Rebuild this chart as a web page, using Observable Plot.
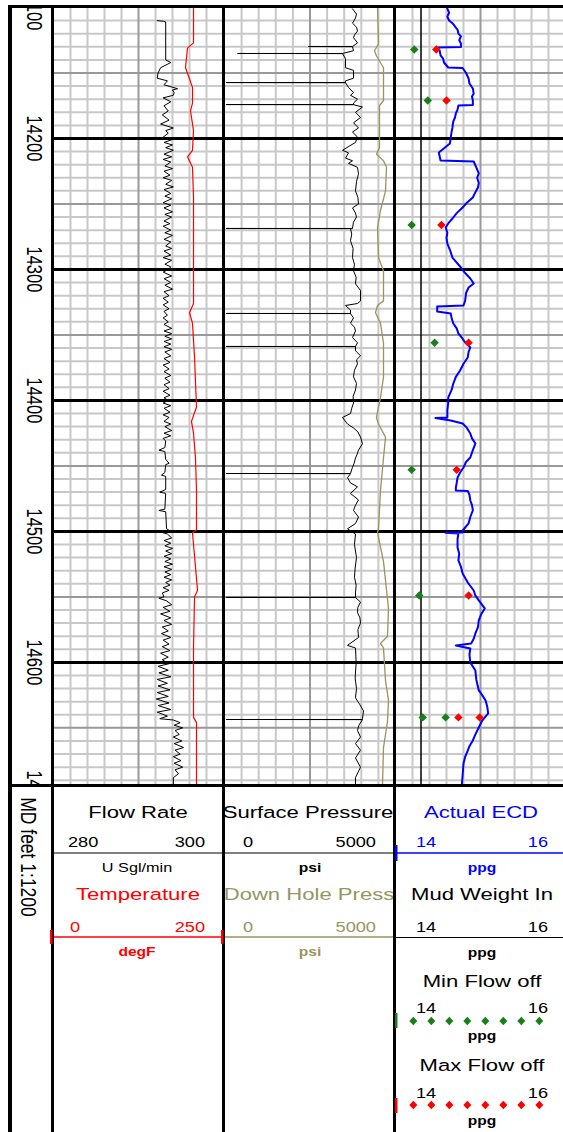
<!DOCTYPE html>
<html><head><meta charset="utf-8">
<script src="https://cdn.jsdelivr.net/npm/d3@7"></script>
<script src="https://cdn.jsdelivr.net/npm/@observablehq/plot@0.6"></script>
<style>
html,body{margin:0;padding:0;background:#fff;}
#root{position:relative;width:563px;height:1132px;overflow:hidden;background:#fff;font-family:"Liberation Sans",Arial,sans-serif;}
</style></head><body><div id="root"></div>
<script>
// ---------------- DATA ----------------
const depthDomain = [14100, 14694];
const depthLabels = [14100, 14200, 14300, 14400, 14500, 14600, 14700];
const gridMinorDepths = d3.range(14110, 14694, 10).filter(d => d % 50 !== 0);
const gridMidDepths = d3.range(14150, 14694, 100);
const gridMajorDepths = d3.range(14200, 14694, 100);

const flowRateRange = [280, 300];
const temperatureRange = [0, 250];
const pressureRange = [0, 5000];
const ppgRange = [14, 16];

// [depth ft, USgl/min]
const flowRate = [[14110,292.2],[14110.5,292.9],[14111,293.2],[14140,293.2],[14142,293.8],[14146,292.6],[14150,292.3],[14154,292.2],[14156,293.4],[14159,293.0],[14162,294.6],[14163,294.0],[14165,294.2],[14167,294.1],[14169,292.9],[14172,293.8],[14175,293.0],[14179,293.5],[14182,292.8],[14186,293.6],[14189,292.6],[14192,294.1],[14194,293.2],[14196,293.5],[14199,292.9],
[14201,293.9],[14203,293.0],[14205,294.0],[14207,293.2],[14209,294.1],[14212,293.0],[14214,293.9],[14216,292.9],[14218,293.8],[14221,293.1],[14223,294.0],[14225,293.0],[14228,293.7],[14230,292.9],[14232,293.9],[14235,293.2],[14237,294.1],[14239,293.0],[14242,293.8],[14244,293.1],[14246,293.9],[14249,292.9],[14251,293.8],[14253,293.0],[14256,294.0],[14258,293.1],[14260,293.9],[14263,293.0],[14265,293.7],[14267,292.9],[14270,293.8],[14272,293.1],[14274,294.0],[14277,293.0],[14279,293.8],[14282,293.2],[14284,293.9],[14286,293.0],[14289,293.8],[14291,292.9],[14293,293.9],[14296,293.1],[14298,293.8],
[14300,293.5],[14302,292.9],[14305,293.9],[14307,293.0],[14310,293.8],[14312,293.1],[14315,294.0],[14317,293.0],[14320,293.6],[14322,292.9],[14325,293.5],[14327,292.9],[14330,293.6],[14332,293.0],[14335,293.4],[14337,292.9],[14340,293.5],[14342,293.0],[14345,293.9],[14347,293.0],[14349,293.9],[14351,293.1],[14353,293.9],[14355,293.0],[14357,293.8],[14359,293.0],[14361,293.9],[14363,293.1],[14366,293.8],[14368,293.0],[14371,293.7],[14373,292.9],[14376,293.6],[14378,293.0],[14381,293.8],[14383,293.1],[14386,293.7],[14388,293.0],[14391,293.6],[14393,292.9],[14396,293.7],[14398,293.0],
[14400,293.5],[14402,292.9],[14404,293.8],[14406,293.0],[14409,293.7],[14411,292.9],[14413,293.6],[14416,293.0],[14418,293.8],[14420,293.1],[14423,293.9],[14425,293.0],[14427,293.8],[14429,292.9],[14431,293.2],[14436,293.1],[14438,292.4],[14439,293.1],[14445,293.2],[14448,293.6],[14449,293.2],[14455,293.1],[14457,292.7],[14458,293.2],[14468,293.2],[14470,292.5],[14471,293.2],[14483,293.1],[14484,292.4],[14485,293.2],[14498,293.3],[14500,293.8],[14501,292.9],[14502,293.4],
[14505,293.9],[14507,293.0],[14509,293.8],[14511,293.1],[14513,294.0],[14515,293.2],[14517,293.9],[14519,293.0],[14521,293.8],[14523,293.1],[14525,294.0],[14527,293.0],[14529,293.9],[14531,293.1],[14533,293.8],[14535,293.0],[14537,293.9],[14539,293.2],[14541,293.7],[14543,292.9],[14545,293.6],[14547,292.8],[14550,293.0],[14551,292.4],[14553,293.3],[14556,293.9],[14558,292.9],[14561,293.7],[14563,292.6],[14566,293.8],[14568,293.0],[14571,293.9],[14573,292.8],[14576,293.5],[14578,292.7],[14581,293.8],[14583,292.9],[14586,293.6],[14588,292.8],[14591,293.7],[14593,292.6],[14596,293.5],[14598,292.8],
[14601,293.6],[14603,292.3],[14606,293.5],[14608,292.4],[14611,293.8],[14613,292.2],[14616,293.4],[14618,292.3],[14621,293.7],[14623,292.2],[14626,293.5],[14628,292.1],[14631,293.6],[14633,292.3],[14636,293.8],[14638,292.2],[14641,293.4],[14643,292.5],[14644,294.1],[14646,294.9],[14648,294.2],[14650,295.2],[14652,294.3],[14655,294.8],[14657,294.1],[14660,295.1],[14662,294.2],[14665,295.3],[14667,294.3],[14670,294.9],[14672,294.1],[14675,295.0],[14677,294.2],[14680,295.2],[14682,294.3],[14685,294.7],[14688,294.1],[14694,294.1]];

// [depth ft, degF]
const temperature = [[14100,205.9],[14127,205.9],[14131,197.1],[14146,194.1],[14161,204.4],[14173,204.4],[14179,201.5],[14194,205.9],[14209,204.4],[14214,197.1],[14222,204.4],[14245,205.9],[14301,205.9],[14326,205.9],[14333,200.0],[14341,204.4],[14367,207.4],[14405,210.3],[14416,202.9],[14425,205.9],[14444,208.8],[14469,210.3],[14499,210.3],[14501,204.4],[14545,211.8],[14550,207.4],[14589,205.9],[14642,205.9],[14646,210.3],[14694,210.3]];

// [depth ft, psi]
const surfacePressure = [[14101,3743],[14105,3860],[14108,3830],[14112,3743],[14115,3860],[14118,3889],[14121,3800],[14123,3772],[14127,3889],[14129.8,3743],[14129.8,2456],[14129.9,3743],[14133,3772],[14135.1,3450],[14135.1,380],[14135.2,3450],[14139,3538],[14146,3538],[14148,3772],[14154,3772],[14156,3538],[14157.3,3538],[14157.3,50],[14157.4,3538],[14161,3626],[14165,3772],[14167,3684],[14170,3889],[14173,3772],[14174.1,3772],[14174.1,50],[14174.2,3772],[14176,4035],[14180,3830],[14184,3977],[14188,3772],[14192,3918],[14195,3743],[14199,3889],[14203,3830],[14209,3450],[14211,3626],[14215,3538],[14217,3743],[14219,3626],[14222,3889],[14227,3918],[14233,3860],[14240,3830],[14245,3900],[14250,3918],[14253,3743],[14257,3830],[14260,3860],[14264,3770],[14268.7,3743],[14268.7,50],[14268.8,3684],[14273,3720],[14278,3684],[14284,3760],[14291,3743],[14296,3800],[14301,3772],[14306,3850],[14311,3830],[14316,3977],[14324,3977],[14326,3889],[14327.5,3538],[14331,3684],[14333.6,3684],[14333.6,50],[14333.7,3684],[14337,3772],[14341,3684],[14344,3800],[14347,3830],[14352,3743],[14356,3889],[14358.8,3830],[14358.8,50],[14358.9,3830],[14362,3830],[14366,3977],[14369,3860],[14372,3889],[14377,3800],[14382,3772],[14387,3860],[14392,3830],[14397,3760],[14402,3772],[14406,3720],[14410,3684],[14413,3450],[14418,3596],[14421,3772],[14424,3900],[14428,3977],[14433,4035],[14438,3918],[14441,3880],[14444,3830],[14448,3790],[14451,3743],[14455.8,3684],[14455.8,50],[14455.9,3684],[14459,3596],[14463,3684],[14466,3889],[14471,3684],[14476,3918],[14480,3830],[14484,3772],[14489,3918],[14494,3830],[14498,3596],[14502,3830],[14510,3800],[14520,3860],[14528,3820],[14535,3800],[14541,3850],[14547,3830],[14550.4,3830],[14550.4,50],[14550.5,3830],[14554,3977],[14558,3900],[14562,3889],[14566,3960],[14570,3977],[14575,3900],[14581,3918],[14587,3596],[14589,3830],[14600,3850],[14612,3820],[14620,3860],[14627,3830],[14632,3950],[14637,4064],[14643,4035],[14643.6,4035],[14643.6,50],[14643.7,4035],[14648,3930],[14652,3889],[14657,3977],[14662,3830],[14667,3977],[14673,3830],[14680,3977],[14688,3830],[14694,3830]];

// [depth ft, psi]
const downHolePressure = [[14100,4474],[14128,4503],[14133,4386],[14137,4444],[14146,4649],[14171,4649],[14175,4532],[14207,4532],[14212,4444],[14217,4649],[14222,4737],[14240,4708],[14255,4561],[14268,4474],[14291,4503],[14301,4649],[14324,4649],[14327.5,4474],[14333,4415],[14341,4561],[14356.5,4649],[14382,4649],[14398,4561],[14405,4503],[14413,4444],[14418,4503],[14428,4708],[14444,4649],[14469,4561],[14498,4503],[14501,4474],[14523,4649],[14559,4795],[14580,4766],[14585.6,4561],[14589,4649],[14614,4708],[14629,4795],[14645,4766],[14665,4649],[14694,4620]];

// [depth ft, ppg]
const actualECD = [[14100.8,14.61],[14104,14.63],[14107,14.61],[14109.9,14.63],[14112,14.67],[14115.3,14.71],[14117,14.73],[14119.9,14.74],[14122,14.77],[14125,14.75],[14127.5,14.77],[14130.2,14.77],[14130.5,14.49],[14133,14.52],[14136.6,14.53],[14139,14.56],[14142.0,14.57],[14145.8,14.62],[14146.2,14.79],[14150,14.83],[14154.2,14.86],[14158,14.87],[14161.8,14.91],[14165.7,14.92],[14168,14.90],[14171.0,14.91],[14174.4,14.91],[14174.8,14.74],[14178,14.73],[14180.9,14.71],[14184,14.70],[14187,14.68],[14191.6,14.67],[14195,14.66],[14199.3,14.65],[14203.8,14.64],[14210.7,14.51],[14216.8,14.53],[14217.6,14.92],[14222,14.95],[14226.7,14.98],[14230,14.96],[14234,14.98],[14237.4,14.97],[14241,14.94],[14245.1,14.91],[14249,14.84],[14252.7,14.79],[14257,14.72],[14261.1,14.67],[14264,14.63],[14268.0,14.59],[14272,14.61],[14276,14.60],[14280.2,14.61],[14285,14.64],[14290.9,14.67],[14294,14.71],[14298.5,14.77],[14302,14.81],[14306.9,14.88],[14310.7,14.92],[14313.8,14.86],[14318,14.83],[14323.7,14.82],[14327.5,14.80],[14328.3,14.49],[14332.1,14.49],[14333.6,14.65],[14337,14.66],[14341.3,14.68],[14345,14.72],[14348.9,14.74],[14352,14.78],[14355.8,14.82],[14359.6,14.88],[14363,14.86],[14367.2,14.85],[14372,14.80],[14377.1,14.76],[14382,14.71],[14387.1,14.68],[14392,14.66],[14397.8,14.62],[14402,14.62],[14407.7,14.61],[14413.0,14.61],[14413.4,14.47],[14415.3,14.65],[14417.6,14.79],[14421,14.84],[14425.3,14.88],[14429,14.90],[14432.9,14.94],[14438,14.91],[14443.6,14.88],[14447,14.83],[14451.2,14.80],[14455,14.76],[14458.9,14.73],[14463,14.72],[14466.5,14.71],[14468.8,14.71],[14469.1,14.85],[14472,14.87],[14476.4,14.88],[14480,14.90],[14484.0,14.91],[14489,14.88],[14493.9,14.86],[14499.3,14.79],[14500.8,14.79],[14501.0,14.59],[14501.6,14.74],[14506,14.73],[14512.2,14.73],[14517,14.75],[14522.2,14.74],[14527,14.77],[14532.1,14.79],[14539.0,14.85],[14545.1,14.92],[14549,14.94],[14552.7,14.98],[14558.8,15.05],[14563,15.01],[14568.0,14.98],[14573,14.97],[14577.9,14.94],[14582,14.92],[14585.6,14.89],[14587.1,14.71],[14589.4,14.88],[14594,14.87],[14600.1,14.88],[14606.2,14.94],[14613,14.95],[14621.4,14.98],[14625,15.02],[14629.1,15.06],[14634,15.08],[14639.0,15.09],[14644.4,15.02],[14649.7,14.98],[14655,14.94],[14659.6,14.91],[14664,14.87],[14667.3,14.85],[14672,14.82],[14677.2,14.80],[14686,14.79],[14694.0,14.78]];

const mudWeightIn = [14.3];
// [depth ft, ppg]
const minFlowOff = [[14132,14.22],[14171,14.38],[14266,14.19],[14356,14.46],[14453,14.19],[14549,14.28],[14642,14.32],[14642,14.59]];
const maxFlowOff = [[14132,14.48],[14171,14.60],[14266,14.54],[14356,14.86],[14453,14.72],[14549,14.86],[14642,14.74],[14642,14.99]];

// ---------------- LAYOUT ----------------
const FONT = "Liberation Sans, Arial, sans-serif";
const LOG_TOP = 7, LOG_H = 778;
const T_DEPTH = {left: 12, w: 43};
const T1 = {left: 53, w: 170};
const T2 = {left: 224, w: 171};
const T3 = {left: 395, w: 170};
const olive = "#96965f", green = "#1a7f1a", blue = "#0000ff", red = "#ff0000";

const root = document.getElementById("root");
function place(node, left, top, w, h) {
  const wrap = document.createElement("div");
  wrap.style.cssText = `position:absolute;left:${left}px;top:${top}px;width:${w}px;height:${h}px;`;
  wrap.appendChild(node);
  root.appendChild(wrap);
  return node;
}

function gridMarks(domain) {
  const step = (domain[1] - domain[0]) / 10;
  const vMinor = d3.range(1, 10).filter(i => i !== 5).map(i => domain[0] + step * i);
  const vMid = [domain[0] + step * 5];
  return [
    Plot.ruleY(gridMinorDepths, {stroke: "#c8c8c8", strokeWidth: 2}),
    Plot.ruleX(vMinor, {stroke: "#c8c8c8", strokeWidth: 2}),
    Plot.ruleY(gridMidDepths, {stroke: "#999999", strokeWidth: 2}),
    Plot.ruleX(vMid, {stroke: "#999999", strokeWidth: 2}),
    Plot.ruleY(gridMajorDepths, {stroke: "#000", strokeWidth: 3})
  ];
}

function trackPlot(domain, width, marks, transparent) {
  return Plot.plot({
    width, height: LOG_H, margin: 0,
    style: `background:${transparent ? "transparent" : "white"};overflow:hidden;`,
    x: {domain, axis: null},
    y: {domain: depthDomain, range: [0, LOG_H], axis: null},
    marks
  });
}
const X = d => d[1], Y = d => d[0];

// depth track
const depthPlot = Plot.plot({
  width: T_DEPTH.w, height: LOG_H, margin: 0,
  style: "background:white;overflow:hidden;",
  y: {domain: depthDomain, range: [0, LOG_H], axis: null},
  marks: [
    Plot.text(depthLabels, {y: d => d, text: d => String(d), rotate: 90, fontSize: 16.5,
      fontFamily: FONT, fill: "#000", clip: true})
  ]
});
depthPlot.querySelectorAll("text").forEach(t => {
  const tr = t.getAttribute("transform") || "";
  t.setAttribute("transform", tr + " scale(1,1.3)");
});
place(depthPlot, T_DEPTH.left, LOG_TOP, T_DEPTH.w, LOG_H);

// track 1
place(trackPlot(flowRateRange, T1.w, [
  ...gridMarks(flowRateRange),
  Plot.line(flowRate, {x: X, y: Y, stroke: "#000", strokeWidth: 1})
]), T1.left, LOG_TOP, T1.w, LOG_H);
place(trackPlot(temperatureRange, T1.w, [
  Plot.line(temperature, {x: X, y: Y, stroke: red, strokeWidth: 1.2})
], true), T1.left, LOG_TOP, T1.w, LOG_H);

// track 2
place(trackPlot(pressureRange, T2.w, [
  ...gridMarks(pressureRange),
  Plot.line(surfacePressure, {x: X, y: Y, stroke: "#000", strokeWidth: 1}),
  Plot.line(downHolePressure, {x: X, y: Y, stroke: olive, strokeWidth: 1.3})
]), T2.left, LOG_TOP, T2.w, LOG_H);

// track 3
place(trackPlot(ppgRange, T3.w, [
  ...gridMarks(ppgRange),
  Plot.ruleX(mudWeightIn, {stroke: "#000", strokeWidth: 1.5}),
  Plot.line(actualECD, {x: X, y: Y, stroke: blue, strokeWidth: 2}),
  Plot.dot(minFlowOff, {x: X, y: Y, symbol: "diamond2", r: 3.8, fill: green, stroke: "none"}),
  Plot.dot(maxFlowOff, {x: X, y: Y, symbol: "diamond2", r: 3.8, fill: red, stroke: "none"})
]), T3.left, LOG_TOP, T3.w, LOG_H);

// ---------------- HEADER / FRAME ----------------
const svg = d3.select(root).append("svg")
  .attr("width", 563).attr("height", 1132)
  .style("position", "absolute").style("left", "0px").style("top", "0px")
  .style("pointer-events", "none");

const headerTexts = [
  {t: "Flow Rate", x: 138, y: 818, a: "middle", s: 17, c: "#000"},
  {t: "280", x: 68, y: 847, a: "start", s: 14, c: "#000"},
  {t: "300", x: 205, y: 847, a: "end", s: 14, c: "#000"},
  {t: "U Sgl/min", x: 137, y: 872, a: "middle", s: 12.5, c: "#000"},
  {t: "Temperature", x: 138, y: 900, a: "middle", s: 17, c: red},
  {t: "0", x: 70, y: 932, a: "start", s: 14, c: red},
  {t: "250", x: 205, y: 932, a: "end", s: 14, c: red},
  {t: "degF", x: 137, y: 956, a: "middle", s: 12, c: red, w: "bold"},

  {t: "Surface Pressure", x: 308, y: 818, a: "middle", s: 17, c: "#000"},
  {t: "0", x: 243, y: 847, a: "start", s: 14, c: "#000"},
  {t: "5000", x: 376, y: 847, a: "end", s: 14, c: "#000"},
  {t: "psi", x: 310, y: 872, a: "middle", s: 12, c: "#000", w: "bold"},
  {t: "Down Hole Press", x: 309, y: 900, a: "middle", s: 17, c: olive},
  {t: "0", x: 243, y: 932, a: "start", s: 14, c: olive},
  {t: "5000", x: 376, y: 932, a: "end", s: 14, c: olive},
  {t: "psi", x: 310, y: 956, a: "middle", s: 12, c: olive, w: "bold"},

  {t: "Actual ECD", x: 481, y: 818, a: "middle", s: 17, c: blue},
  {t: "14", x: 416, y: 847, a: "start", s: 14, c: blue},
  {t: "16", x: 548, y: 847, a: "end", s: 14, c: blue},
  {t: "ppg", x: 482, y: 872, a: "middle", s: 12, c: blue, w: "bold"},
  {t: "Mud Weight In", x: 482, y: 900, a: "middle", s: 17, c: "#000"},
  {t: "14", x: 416, y: 932, a: "start", s: 14, c: "#000"},
  {t: "16", x: 548, y: 932, a: "end", s: 14, c: "#000"},
  {t: "ppg", x: 482, y: 957, a: "middle", s: 12, c: "#000", w: "bold"},
  {t: "Min Flow off", x: 482, y: 987, a: "middle", s: 17, c: "#000"},
  {t: "14", x: 416, y: 1013, a: "start", s: 14, c: "#000"},
  {t: "16", x: 548, y: 1013, a: "end", s: 14, c: "#000"},
  {t: "ppg", x: 482, y: 1040, a: "middle", s: 12, c: "#000", w: "bold"},
  {t: "Max Flow off", x: 482, y: 1071, a: "middle", s: 17, c: "#000"},
  {t: "14", x: 416, y: 1098, a: "start", s: 14, c: "#000"},
  {t: "16", x: 548, y: 1098, a: "end", s: 14, c: "#000"},
  {t: "ppg", x: 482, y: 1125, a: "middle", s: 12, c: "#000", w: "bold"}
];
svg.append("g").selectAll("text").data(headerTexts).join("text")
  .attr("transform", d => `translate(${d.x},${d.y}) scale(1.3,1)`)
  .attr("text-anchor", d => d.a)
  .attr("font-family", FONT)
  .attr("font-size", d => d.s)
  .attr("font-weight", d => d.w || "normal")
  .attr("fill", d => d.c)
  .text(d => d.t);

svg.append("text")
  .attr("transform", "translate(29,857) rotate(90) scale(1,1.3)")
  .attr("text-anchor", "middle").attr("dy", "0.35em")
  .attr("font-family", FONT).attr("font-size", 17.5).attr("fill", "#000")
  .text("MD feet 1:1200");

const headerLines = [
  {x1: 53, x2: 223, y: 853, c: "#000", w: 1},
  {x1: 223, x2: 395, y: 853, c: "#000", w: 1},
  {x1: 395, x2: 563, y: 853, c: blue, w: 1.3},
  {x1: 53, x2: 223, y: 937, c: red, w: 1.3},
  {x1: 223, x2: 395, y: 937, c: olive, w: 1.3},
  {x1: 395, x2: 563, y: 937.5, c: "#000", w: 1.2}
];
svg.append("g").selectAll("line").data(headerLines).join("line")
  .attr("x1", d => d.x1).attr("x2", d => d.x2).attr("y1", d => d.y).attr("y2", d => d.y)
  .attr("stroke", d => d.c).attr("stroke-width", d => d.w);

// legend diamonds
const legendDiamonds = [{y: 1021, c: green}, {y: 1105, c: red}];
legendDiamonds.forEach(row => {
  svg.append("g").selectAll("path").data(d3.range(8)).join("path")
    .attr("transform", i => `translate(${413.3 + 18 * i},${row.y})`)
    .attr("d", "M0,-4.3L4,0L0,4.3L-4,0Z").attr("fill", row.c);
});

// frame borders
const borders = [
  {x: 8, y: 5, w: 555, h: 3},
  {x: 8, y: 5, w: 4, h: 1127},
  {x: 51, y: 5, w: 3, h: 1127},
  {x: 222, y: 5, w: 3, h: 1127},
  {x: 393, y: 5, w: 3, h: 1127},
  {x: 8, y: 784, w: 555, h: 3}
];
svg.append("g").selectAll("rect").data(borders).join("rect")
  .attr("x", d => d.x).attr("y", d => d.y).attr("width", d => d.w).attr("height", d => d.h)
  .attr("fill", "#000");

// legend ticks at track edges
const ticks = [
  {x: 50, y: 930, h: 14, c: red},
  {x: 221, y: 930, h: 14, c: red},
  {x: 395, y: 845, h: 16, c: blue},
  {x: 395, y: 1013, h: 15, c: green},
  {x: 395, y: 1098, h: 15, c: red}
];
svg.append("g").selectAll("rect").data(ticks).join("rect")
  .attr("x", d => d.x).attr("y", d => d.y).attr("width", 2.5).attr("height", d => d.h)
  .attr("fill", d => d.c);
</script></body></html>
